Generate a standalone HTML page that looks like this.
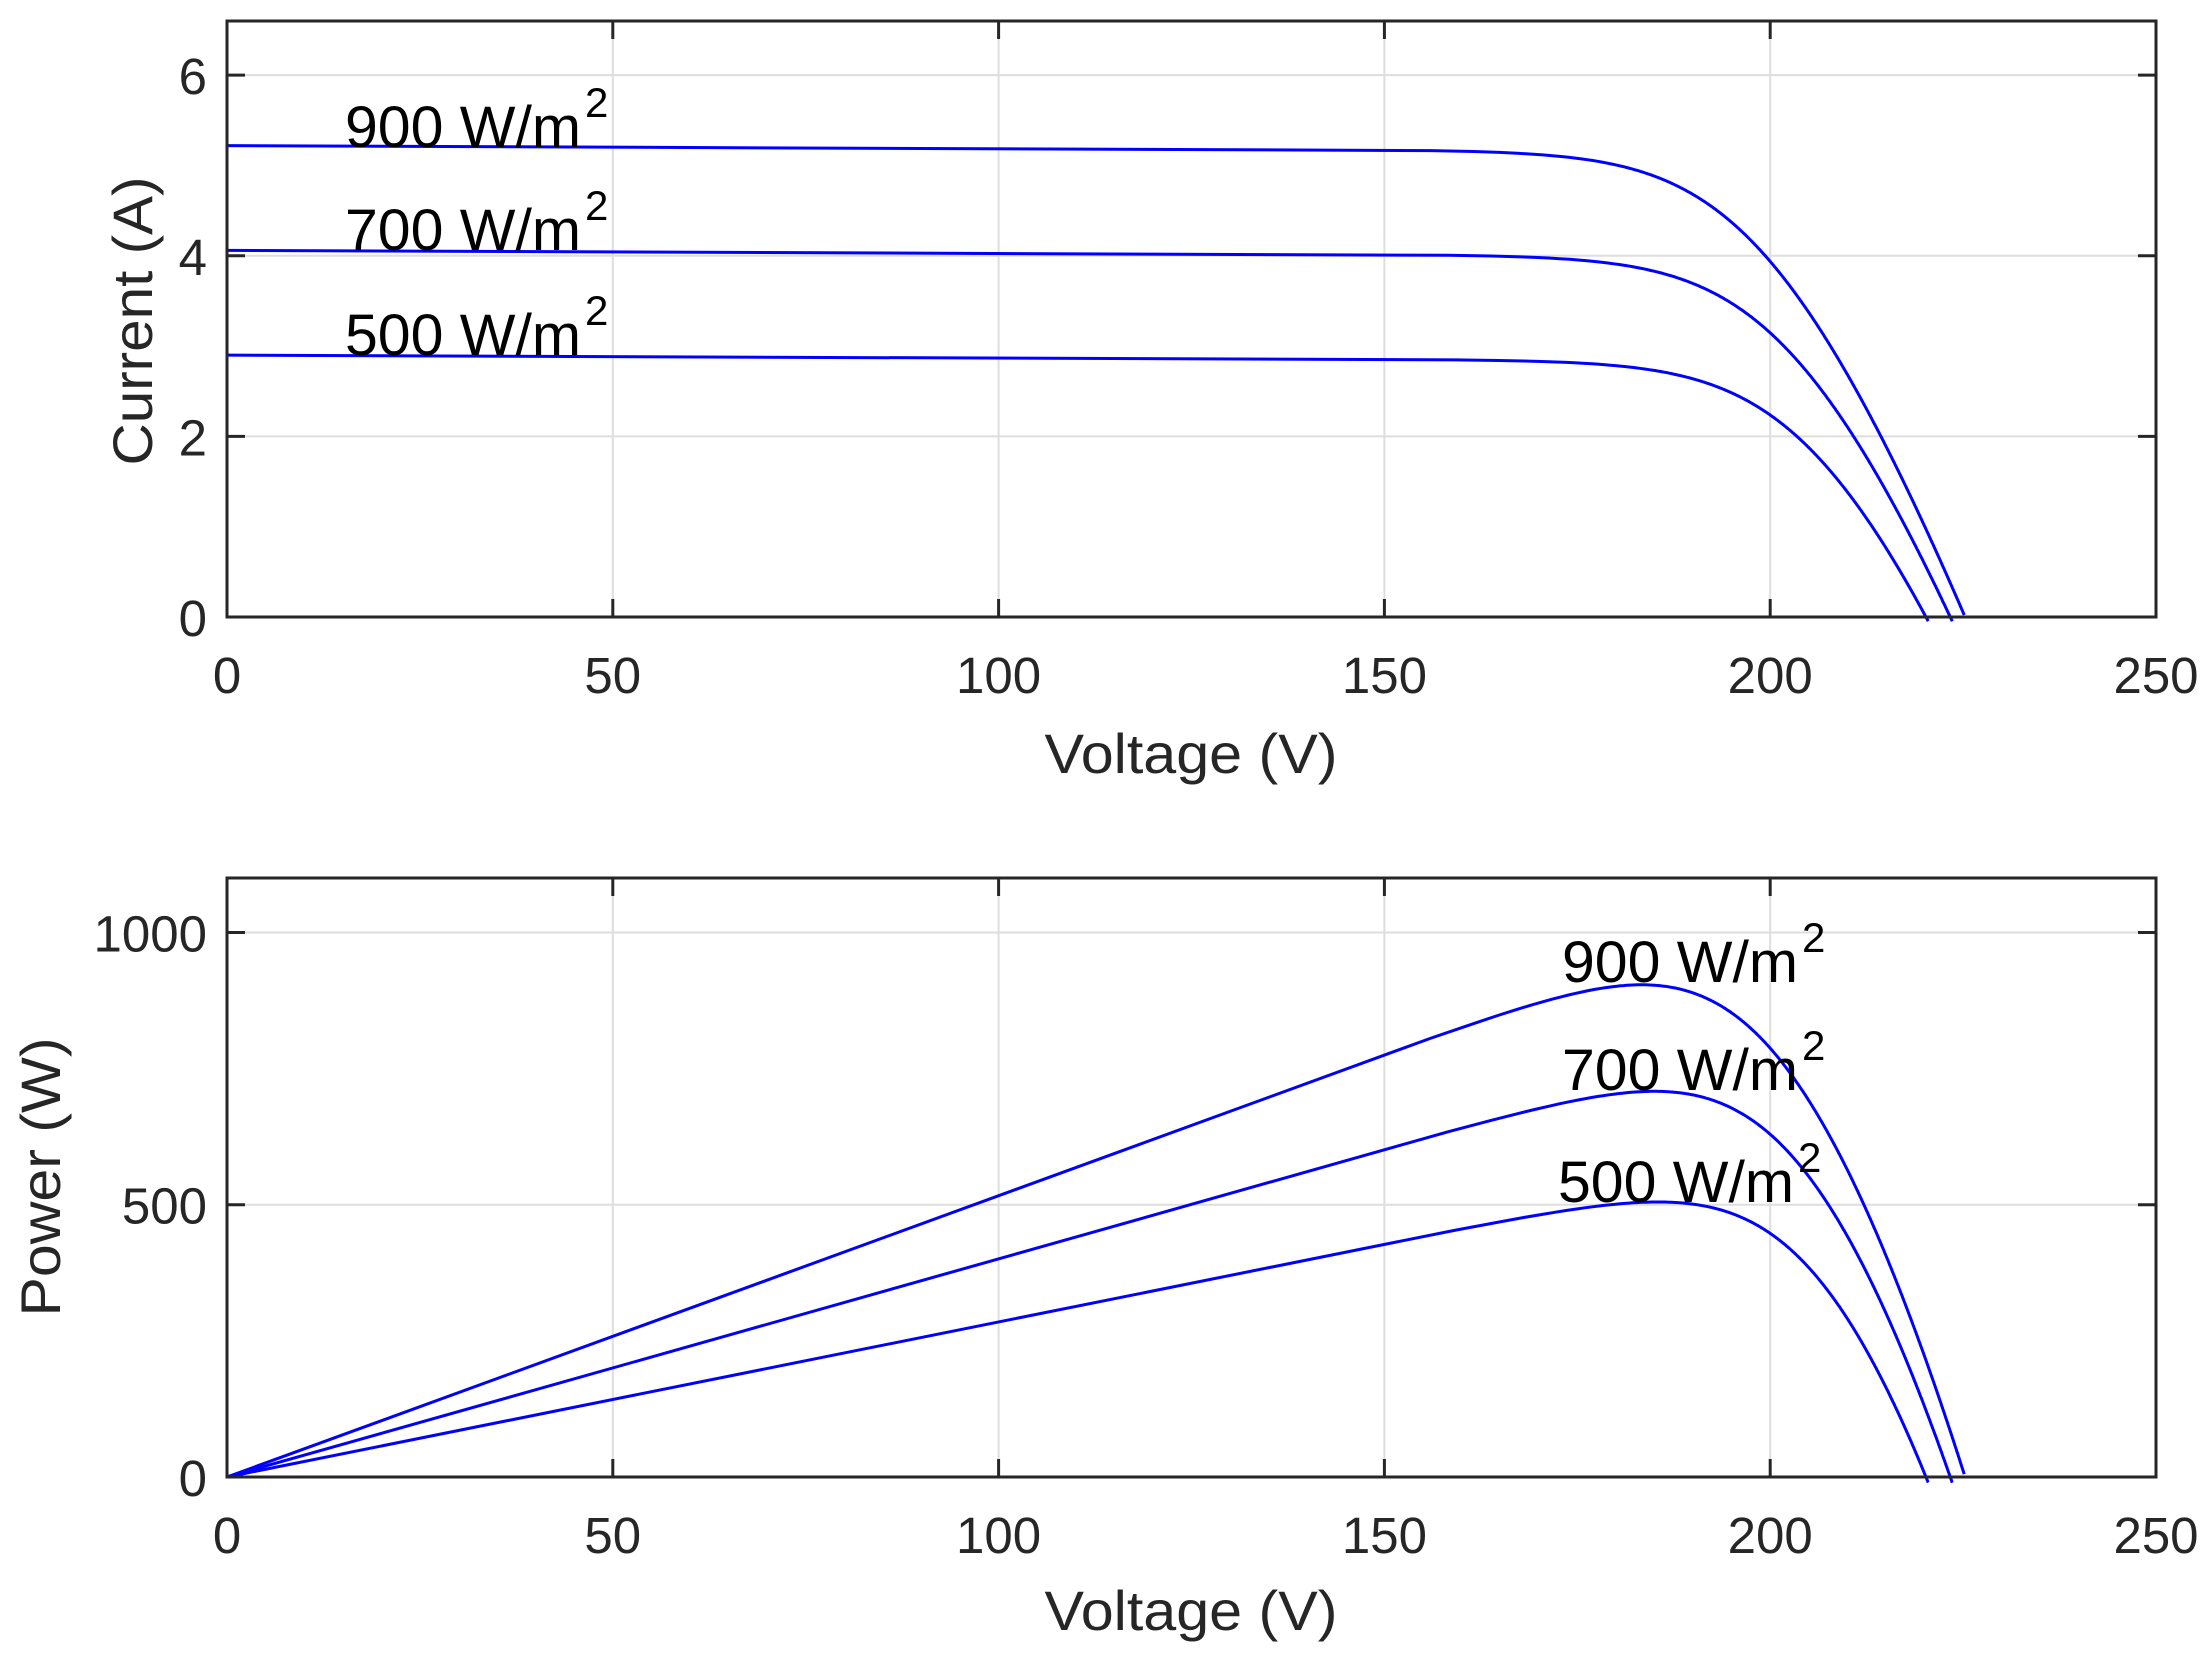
<!DOCTYPE html>
<html><head><meta charset="utf-8"><style>
html,body{margin:0;padding:0;background:#fff}
svg{display:block}
text{font-family:"Liberation Sans",Arial,sans-serif}
</style></head><body>
<svg id="s" width="2210" height="1657" viewBox="0 0 2210 1657" xmlns="http://www.w3.org/2000/svg">
<rect width="2210" height="1657" fill="#fff"/>
<g id="grid" stroke="#dedede" stroke-width="2"></g>
<g id="curves" fill="none" stroke="#0000ff" stroke-width="3"></g>
<g id="axes" stroke="#262626" stroke-width="3" fill="none"></g>
<g id="labels" fill="#262626" font-size="51"></g>
<g id="ann" fill="#000" font-size="58"></g>
<g fill="#262626" font-size="56" text-anchor="middle" lengthAdjust="spacingAndGlyphs">
<text x="1191" y="773" textLength="293" lengthAdjust="spacingAndGlyphs">Voltage (V)</text>
<text x="1191" y="1630" textLength="293" lengthAdjust="spacingAndGlyphs">Voltage (V)</text>
<text transform="translate(152,321) rotate(-90)" textLength="289" lengthAdjust="spacingAndGlyphs">Current (A)</text>
<text transform="translate(60,1177) rotate(-90)" textLength="279" lengthAdjust="spacingAndGlyphs">Power (W)</text>
</g>
</svg>
<script>
var NS="http://www.w3.org/2000/svg";
function el(p,t,a,txt){var e=document.createElementNS(NS,t);for(var k in a)e.setAttribute(k,a[k]);if(txt!==undefined)e.textContent=txt;document.getElementById(p).appendChild(e);return e;}
var X0=227,X1=2156;function sx(v){return X0+(X1-X0)*v/250;}
var T={top:21,bot:617,max:6.6},B={top:878,bot:1477,max:1100};
function syT(i){return T.bot-(T.bot-T.top)*i/T.max;}
function syB(p){return B.bot-(B.bot-B.top)*p/B.max;}
[[T,syT,[0,2,4,6]],[B,syB,[0,500,1000]]].forEach(function(a){
 var ax=a[0],sy=a[1];
 [0,50,100,150,200,250].forEach(function(v){var x=sx(v);
  if(v>0&&v<250)el("grid","line",{x1:x,x2:x,y1:ax.top,y2:ax.bot});
  el("axes","line",{x1:x,x2:x,y1:ax.bot,y2:ax.bot-18});el("axes","line",{x1:x,x2:x,y1:ax.top,y2:ax.top+18});
  el("labels","text",{x:x,y:ax.bot+76,"text-anchor":"middle"},String(v));});
 a[2].forEach(function(v){var y=sy(v);
  if(v>0)el("grid","line",{x1:X0,x2:X1,y1:y,y2:y});
  el("axes","line",{x1:X0,x2:X0+18,y1:y,y2:y});el("axes","line",{x1:X1,x2:X1-18,y1:y,y2:y});
  el("labels","text",{x:207,y:y+19,"text-anchor":"end"},String(v));});
 el("axes","rect",{x:X0,y:ax.top,width:X1-X0,height:ax.bot-ax.top});
});
[[345,147,"900"],[345,250,"700"],[345,355,"500"],[1562,982,"900"],[1562,1090,"700"],[1558,1202,"500"]].forEach(function(t){
 el("ann","text",{x:t[0],y:t[1],textLength:236,lengthAdjust:"spacingAndGlyphs"},t[2]+" W/m");
 el("ann","text",{x:t[0]+240,y:t[1]-30,"font-size":42},"2");
});
var series=[[5.22,225.6,0.09],[4.06,223.7,0.02],[2.90,220.6,0.02]];
var a=8,Rs=3.5,k=0.0003;
series.forEach(function(s){
 var Isc=s[0],Voc=s[1];
 var pts=[];
 // parametric by current
 var N=600;
 for(var i=0;i<=N;i++){
   var f=i/N; // fraction toward Isc
   var Id=s[2]+(Isc-s[2])*(1-Math.pow(1-f,1)) ;
   var r=(Isc-Id)/Isc; if(r<1e-30)r=1e-30;
   var V=Voc+a*Math.log(r)-Rs*Id+Rs*0; if(V<0){V=0;}
   pts.push([V,Id]);
   if(V<=0)break;
 }
 // ensure start at V=0
 pts.sort(function(p,q){return p[0]-q[0];});
 pts.unshift([0,Isc]);
 var p1="",p2="";
 pts.forEach(function(p,i){var v=p[0],c=p[1]-k*v;
  p1+=(i?"L":"M")+sx(v).toFixed(1)+","+syT(c).toFixed(1);
  p2+=(i?"L":"M")+sx(v).toFixed(1)+","+syB(c*v).toFixed(1);});
 el("curves","path",{d:p1});el("curves","path",{d:p2});
});
</script>
</body></html>
